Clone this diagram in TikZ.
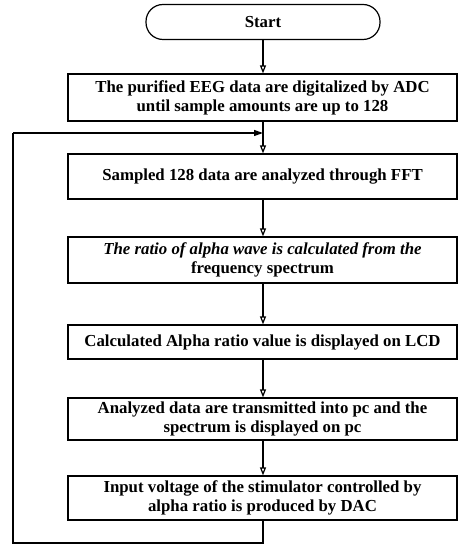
\documentclass[tikz,border=0pt]{standalone}
\usepackage{fontspec}
\setmainfont{Liberation Serif}
\usetikzlibrary{arrows.meta}
\begin{document}
\begin{tikzpicture}[x=1pt,y=-1pt,
  box/.style={draw, line width=1.2pt, minimum width=389pt, align=center, inner sep=0pt, font=\bfseries\fontsize{16.8}{19}\selectfont},
  startbox/.style={draw, line width=1.2pt, rounded corners=17pt, minimum width=234pt, minimum height=35pt, inner sep=0pt, font=\bfseries\fontsize{16.8}{19}\selectfont},
  conn/.style={line width=1.2pt},
  arr/.style={conn, -{Triangle[open, length=8pt, width=6pt]}},
  loopar/.style={conn, -{Triangle[length=9pt, width=6pt]}}]
\useasboundingbox (0,0) rectangle (459,545);
\node[startbox] (start) at (263,22) {Start};
\node[box, minimum height=47pt] (b1) at (262.5,97.5) {The purified EEG data are digitalized by ADC\\until sample amounts are up to 128};
\node[box, minimum height=45pt] (b2) at (262.5,176.5) {Sampled 128 data are analyzed through FFT};
\node[box, minimum height=46pt] (b3) at (262.5,260) {\itshape The ratio of alpha wave is calculated from the\\frequency spectrum};
\node[box, minimum height=34pt] (b4) at (262.5,342) {Calculated Alpha ratio value is displayed on LCD};
\node[box, minimum height=42pt] (b5) at (262.5,419) {Analyzed data are transmitted into pc and the\\spectrum is displayed on pc};
\node[box, minimum height=44pt] (b6) at (262.5,498) {Input voltage of the stimulator controlled by\\alpha ratio is produced by DAC};
\coordinate (j) at (263,133);
\coordinate (bl) at (13,543);
\coordinate (tl) at (13,133);
\draw[arr] (start.south -| j) -- (b1.north -| j);
\draw[arr] (b1.south -| j) -- (b2.north -| j);
\draw[arr] (b2.south -| j) -- (b3.north -| j);
\draw[arr] (b3.south -| j) -- (b4.north -| j);
\draw[arr] (b4.south -| j) -- (b5.north -| j);
\draw[arr] (b5.south -| j) -- (b6.north -| j);
\draw[conn] (b6.south -| j) -- (j |- bl) -- (bl) -- (tl);
\draw[loopar] (tl) -- (j);
\end{tikzpicture}
\end{document}
